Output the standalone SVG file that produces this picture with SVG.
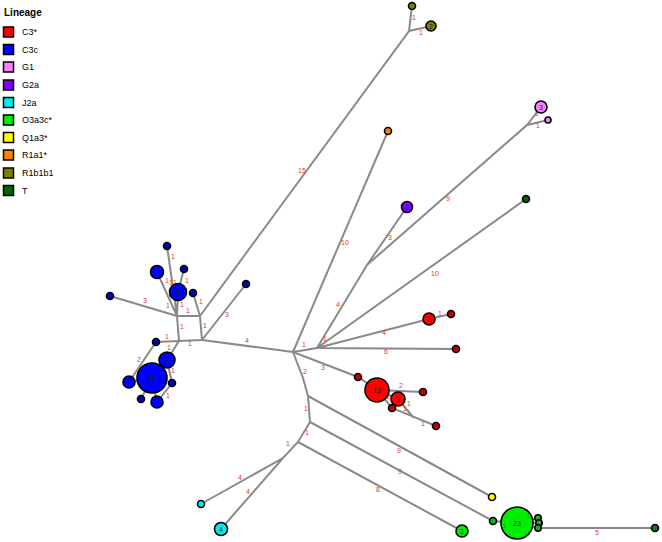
<svg xmlns="http://www.w3.org/2000/svg" width="662" height="542" viewBox="0 0 662 542">
<style>
.e{stroke:#8a8a8a;stroke-width:2;fill:none;stroke-linecap:round}
.l{font-family:"Liberation Sans",Arial,sans-serif;font-size:7px;fill:#e8322e;text-anchor:middle}
.n{stroke:#000;stroke-width:1.6}
.t{font-family:"Liberation Sans",Arial,sans-serif;font-size:7px;fill:#222;text-anchor:middle}
.lg{font-family:"Liberation Sans",Arial,sans-serif;font-size:9px;fill:#000}
.sq{stroke:#000;stroke-width:1.5}
.C3{fill:#ff0000}.C3s{fill:#c00000}.C3c{fill:#0000ff}.C3cs{fill:#0000b0}.G1{fill:#ff80ff}.G2a{fill:#8000ff}.J2a{fill:#00eef0}
.O3{fill:#00ee00}.O3s{fill:#22a822}.Q1{fill:#ffff00}.R1a{fill:#ff8000}.R1b{fill:#808000}.T{fill:#006400}
</style>
<rect width="662" height="542" fill="#fff"/>
<g id="legend">
<text x="4" y="16" class="lg" style="font-weight:bold;font-size:10px">Lineage</text>
<rect x="3.5" y="27" width="10" height="10" class="sq C3"/><text x="22" y="35" class="lg">C3*</text>
<rect x="3.5" y="44.5" width="10" height="10" class="sq C3c"/><text x="22" y="52.5" class="lg">C3c</text>
<rect x="3.5" y="62" width="10" height="10" class="sq G1"/><text x="22" y="70" class="lg">G1</text>
<rect x="3.5" y="80" width="10" height="10" class="sq G2a"/><text x="22" y="88" class="lg">G2a</text>
<rect x="3.5" y="97.5" width="10" height="10" class="sq J2a"/><text x="22" y="105.5" class="lg">J2a</text>
<rect x="3.5" y="115" width="10" height="10" class="sq O3"/><text x="22" y="123" class="lg">O3a3c*</text>
<rect x="3.5" y="132.5" width="10" height="10" class="sq Q1"/><text x="22" y="140.5" class="lg">Q1a3*</text>
<rect x="3.5" y="150" width="10" height="10" class="sq R1a"/><text x="22" y="158" class="lg">R1a1*</text>
<rect x="3.5" y="168" width="10" height="10" class="sq R1b"/><text x="22" y="176" class="lg">R1b1b1</text>
<rect x="3.5" y="185.5" width="10" height="10" class="sq T"/><text x="22" y="193.5" class="lg">T</text>
</g>
<g id="connectors">
<path class="e" d="M293,352L202,340M293,352L317,348M293,352L388,131M293,352L303,378L308,396L310,422L298,442L283,458L201,504M283,458L221,529M308,396L492,497M310,422L493,521M298,442L462,531"/>
<path class="e" d="M293,352L358,377L377,390M377,390L423,392M377,390L398,399M377,390L392,408L436,426M398,399L413,417"/>
<path class="e" d="M317,348L367,265L407,207M367,265L527,125L541,107M527,125L548,120M317,348L526,199M317,348L429,319L451,314M317,348L456,349"/>
<path class="e" d="M202,340L200,316L177,316L179,341L202,340M202,340L246,284M200,316L409,31L412,6M409,31L431,26M200,316L193,293M177,316L110,296M177,316L167,246M177,316L157,272M177,316L178,292L184,269"/>
<path class="e" d="M179,341L156,342L129,382M179,341L167,360L152,378M167,360L172,383L157,402M152,378L129,382M152,378L141,399M152,378L157,402"/>
<path class="e" d="M493,521L517,523M517,523L538,518M517,523L539,523M517,523L538,528L655,528"/>
</g>
<g id="edge-labels">
<text class="l" x="247" y="343">4</text><text class="l" x="304" y="347">1</text><text class="l" x="345" y="245">10</text>
<text class="l" x="305" y="374">2</text><text class="l" x="306" y="411">1</text><text class="l" x="307" y="435">1</text><text class="l" x="288" y="446">1</text>
<text class="l" x="240" y="480">4</text><text class="l" x="248" y="494">4</text><text class="l" x="399" y="453">9</text><text class="l" x="400" y="474">9</text><text class="l" x="378" y="492">8</text>
<text class="l" x="323" y="370">3</text><text class="l" x="401" y="388">2</text><text class="l" x="388" y="399">1</text><text class="l" x="409" y="406">1</text><text class="l" x="405" y="411">1</text><text class="l" x="423" y="426">1</text>
<text class="l" x="338" y="307">4</text><text class="l" x="390" y="240">3</text><text class="l" x="448" y="201">9</text><text class="l" x="537" y="116">1</text><text class="l" x="538" y="128">1</text>
<text class="l" x="325" y="341">1</text><text class="l" x="435" y="276">10</text><text class="l" x="384" y="335">4</text><text class="l" x="440" y="316">1</text><text class="l" x="386" y="354">6</text>
<text class="l" x="205" y="328">1</text><text class="l" x="190" y="346">1</text><text class="l" x="188" y="313">1</text><text class="l" x="182" y="329">1</text><text class="l" x="227" y="317">3</text>
<text class="l" x="302" y="173">15</text><text class="l" x="414" y="20">1</text><text class="l" x="421" y="35">1</text>
<text class="l" x="201" y="304">1</text><text class="l" x="145" y="303">3</text><text class="l" x="173" y="259">1</text><text class="l" x="167" y="283">1</text><text class="l" x="171" y="285">1</text><text class="l" x="175" y="285">1</text><text class="l" x="187" y="283">1</text>
<text class="l" x="168" y="308">1</text><text class="l" x="182" y="307">1</text>
<text class="l" x="167" y="339">1</text><text class="l" x="139" y="362">2</text><text class="l" x="169" y="350">1</text><text class="l" x="157" y="369">1</text><text class="l" x="173" y="373">1</text><text class="l" x="168" y="398">1</text>
<text class="l" x="140" y="379">1</text><text class="l" x="151" y="392">1</text><text class="l" x="158" y="392">1</text>
<text class="l" x="597" y="535">5</text>
</g>
<g id="n-r1"><circle cx="412" cy="6" r="3.5" class="n R1b"/></g>
<g id="n-r2"><circle cx="431" cy="26" r="5" class="n R1b"/><text class="t" x="431" y="28.5">2</text></g>
<g id="n-g1"><circle cx="541" cy="107" r="6" class="n G1"/><text class="t" x="541" y="109.5">3</text></g>
<g id="n-g2"><circle cx="548" cy="120" r="3" class="n G1"/></g>
<g id="n-orange"><circle cx="388" cy="131" r="3.5" class="n R1a"/></g>
<g id="n-purple"><circle cx="407" cy="207" r="5.5" class="n G2a"/><text class="t" x="407" y="209.5">2</text></g>
<g id="n-t"><circle cx="526" cy="199" r="3.5" class="n T"/></g>
<g id="n-c1"><circle cx="429" cy="319" r="6" class="n C3"/><text class="t" x="429" y="321.5">2</text></g>
<g id="n-c2"><circle cx="451" cy="314" r="3.5" class="n C3s"/></g>
<g id="n-c3"><circle cx="456" cy="349" r="3.5" class="n C3s"/></g>
<g id="n-c4"><circle cx="358" cy="377" r="3.5" class="n C3s"/></g>
<g id="n-c13"><circle cx="377" cy="390" r="12" class="n C3"/><text class="t" x="377" y="392.5">13</text></g>
<g id="n-c5"><circle cx="423" cy="392" r="3.5" class="n C3s"/></g>
<g id="n-c6"><circle cx="398" cy="399" r="7" class="n C3"/><text class="t" x="398" y="401.5">3</text></g>
<g id="n-c7"><circle cx="392" cy="408" r="3.5" class="n C3s"/></g>
<g id="n-c8"><circle cx="436" cy="426" r="3.5" class="n C3s"/></g>
<g id="n-b1"><circle cx="167" cy="246" r="3.5" class="n C3cs"/></g>
<g id="n-b2"><circle cx="157" cy="272" r="6.5" class="n C3c"/></g>
<g id="n-b3"><circle cx="184" cy="269" r="3.5" class="n C3cs"/></g>
<g id="n-b5"><circle cx="178" cy="292" r="8.5" class="n C3c"/><text class="t" x="178" y="294.5">5</text></g>
<g id="n-b4"><circle cx="193" cy="293" r="3.5" class="n C3cs"/></g>
<g id="n-b6"><circle cx="110" cy="296" r="3.5" class="n C3cs"/></g>
<g id="n-b7"><circle cx="246" cy="284" r="3.5" class="n C3cs"/></g>
<g id="n-b8"><circle cx="156" cy="342" r="3.5" class="n C3cs"/></g>
<g id="n-b9"><circle cx="167" cy="360" r="8" class="n C3c"/><text class="t" x="167" y="362.5">6</text></g>
<g id="n-b20"><circle cx="152" cy="378" r="15" class="n C3c"/><text class="t" x="152" y="380.5">20</text></g>
<g id="n-b10"><circle cx="129" cy="382" r="6" class="n C3c"/></g>
<g id="n-b11"><circle cx="172" cy="383" r="3.5" class="n C3cs"/></g>
<g id="n-b12"><circle cx="141" cy="399" r="3.5" class="n C3cs"/></g>
<g id="n-b13"><circle cx="157" cy="402" r="6" class="n C3c"/></g>
<g id="n-j1"><circle cx="201" cy="504" r="3.5" class="n J2a"/></g>
<g id="n-j4"><circle cx="221" cy="529" r="6.5" class="n J2a"/><text class="t" x="221" y="531.5">4</text></g>
<g id="n-y"><circle cx="492" cy="497" r="3.5" class="n Q1"/></g>
<g id="n-gs"><circle cx="493" cy="521" r="3.5" class="n O3s"/></g>
<g id="n-g3"><circle cx="462" cy="531" r="6" class="n O3"/><text class="t" x="462" y="533.5">3</text></g>
<g id="n-g23"><circle cx="517" cy="523" r="16" class="n O3"/><text class="t" x="517" y="525.5">23</text><text class="t" x="505" y="528" style="fill:#8a6a00">1</text><text class="t" x="529" y="518" style="fill:#8a6a00">1</text></g>
<g id="n-gA"><circle cx="538" cy="518" r="3.2" class="n O3s"/></g>
<g id="n-gB"><circle cx="539" cy="523" r="3.2" class="n O3s"/></g>
<g id="n-gC"><circle cx="538" cy="528" r="3.2" class="n O3s"/></g>
<g id="n-gT"><circle cx="655" cy="528" r="3.5" class="n T" style="fill:#127a12"/></g>
</svg>
